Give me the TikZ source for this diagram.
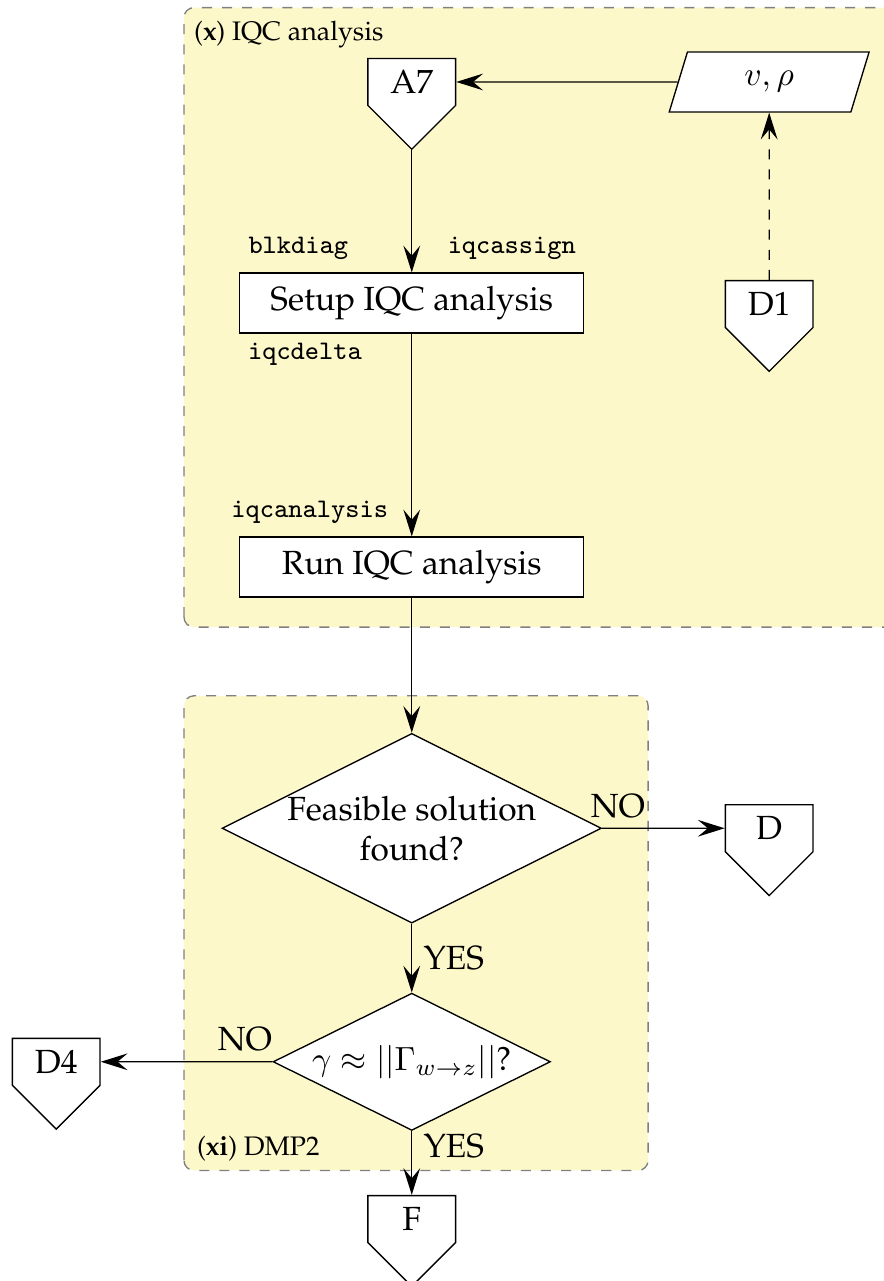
\documentclass[tikz,border=0pt]{standalone}
\usepackage[OT1]{fontenc}
\renewcommand{\rmdefault}{ppl}
\renewcommand{\ttdefault}{cmtt}
\usetikzlibrary{shapes.geometric,shapes.symbols,arrows.meta}

\definecolor{panelyellow}{RGB}{253,248,202}

\tikzset{
    panel/.style={draw=gray, dashed, fill=panelyellow, rounded corners=3pt},
    connector/.style={shape=signal, signal to=south, signal pointer angle=90,
        draw, fill=white, minimum width=0.92cm, text height=7pt, text depth=0pt,
        inner xsep=0pt, inner ysep=3.5pt},
    process/.style={rectangle, draw, fill=white, minimum width=3.61cm, minimum height=0.63cm},
    decision/.style={diamond, draw, fill=white, aspect=2, inner sep=0pt, align=center},
    data/.style={trapezium, trapezium left angle=69, trapezium right angle=111,
        trapezium stretches=true, draw, fill=white,
        minimum width=2.10cm, minimum height=0.63cm, inner ysep=0pt},
    flow/.style={-{Stealth[length=8pt, width=5pt, inset=3pt]}},
    fname/.style={font=\footnotesize\ttfamily, inner sep=0pt},
}

\begin{document}
\begin{tikzpicture}

        \useasboundingbox (00.00,00.00) rectangle (09.27,13.44);

        % (x) IQC analysis
        \draw[panel] (01.93,06.86) rectangle (09.60,13.36);
        \node[anchor=west, font=\footnotesize, inner sep=0pt] (xtitle) at (02.03,13.08) {(\textbf{x}) IQC analysis};

        % (xi) DMP2
        \draw[panel] (01.93,01.16) rectangle (06.80,06.14);
        \node[anchor=west, font=\footnotesize, inner sep=0pt] (xititle) at (02.06,01.39) {(\textbf{xi}) DMP2};

        % A7, v rho, D1
        \node[connector] (a7) at (04.32,12.58) {A7};
        \node[data] (vrho) at (08.07,12.58) {$v,\rho$};
        \node[connector] (d1) at (08.07,10.25) {D1};

        % Setup IQC analysis
        \node[process] (setup) at (04.32,10.26) {Setup IQC analysis};
        \node[fname] (blkdiag) at (03.13,10.83) {blkdiag};
        \node[fname] (iqcassign) at (05.37,10.83) {iqcassign};
        \node[fname] (iqcdelta) at (03.20,09.72) {iqcdelta};

        % Run IQC analysis
        \node[process] (run) at (04.32,07.49) {Run IQC analysis};
        \node[fname] (iqcanalysis) at (03.25,08.07) {iqcanalysis};

        % Feasible solution found?
        \node[decision] (feasible) at (04.32,04.75) {Feasible solution\\found?};
        \node[connector] (dd) at (08.07,04.75) {D};

        % gamma test
        \node[decision, inner ysep=-3pt, minimum width=2.91cm, minimum height=1.44cm] (gain) at (04.32,02.30) {$\gamma \approx ||\Gamma_{w\rightarrow z}||$?};
        \node[connector] (d4) at (00.59,02.30) {D4};
        \node[connector] (fin) at (04.32,00.65) {F};

        % connectors
        \draw[flow] (vrho) -- (a7);
        \draw[flow, dashed] (d1.north) -- (vrho.south);
        \draw[flow] (a7.south) -- (setup);
        \draw[flow] (setup) -- (run);
        \draw[flow] (run) -- (feasible);
        \draw[flow] (feasible) -- node[pos=0.13, above, inner sep=3pt] {NO} (dd);
        \draw[flow] (feasible) -- node[right] {YES} (gain);
        \draw[flow] (gain) -- node[pos=0.16, above, inner sep=3pt] {NO} (d4);
        \draw[flow] (gain) -- node[pos=0.23, right] {YES} (fin.north);

    \end{tikzpicture}
\end{document}
